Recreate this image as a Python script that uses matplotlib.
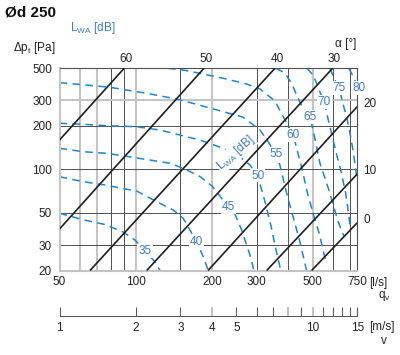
import matplotlib
matplotlib.use("Agg")
import matplotlib.pyplot as plt
from matplotlib.ticker import NullLocator

plt.rcParams["font.family"] = ["Liberation Sans", "DejaVu Sans"]
plt.rcParams["mathtext.fontset"] = "custom"
plt.rcParams["mathtext.rm"] = "Liberation Sans"

# axis ticks
x_ticks = [50, 100, 200, 300, 500, 750]
y_ticks = [20, 30, 50, 100, 200, 300, 500]

# grid lines (light = thick grey, dark = thin)
grid_q_light = [60, 70, 100, 200, 500]
grid_q_dark = [80, 90, 150, 300, 400, 600, 700]
grid_p_light = [300]
grid_p_dark = [30, 50, 100, 200]

# velocity scale
v_ticks = [1, 2, 3, 4, 5, 6, 7, 8, 9, 10, 11, 12, 13, 14, 15]
v_labels = ["1", "2", "3", "4", "5", "", "", "", "", "10", "", "", "", "", "15"]
v_gray = [4, 8, 10]
q_per_v = 50.0

# damper blade angle lines: start / end points
alpha_deg = [60, 50, 40, 30, 20, 10, 0]
alpha_q0 = [50, 50, 66, 110.5, 193, 329, 495]
alpha_p0 = [159.6, 38.7, 20, 20, 20, 20, 20]
alpha_q1 = [90, 186, 354.6, 599, 750, 750, 750]
alpha_p1 = [500, 500, 500, 500, 272, 93, 42.8]

# sound power curves L_WA [dB]
q35 = [50, 62.5, 75.6, 89.3, 99.3, 108.8, 119, 124.7]
p35 = [49.7, 44.7, 41.6, 36.9, 32.5, 27.4, 23.0, 20]
q40 = [50, 62.1, 75.6, 88, 100.8, 121, 140.7, 154, 161, 174, 184.8, 193.4]
p40 = [89.0, 82.2, 78.0, 74.0, 70.9, 59.8, 52.4, 45.9, 40.2, 31.5, 24.9, 20]
q45 = [50, 62.1, 76.8, 113.8, 136.5, 156.5, 179.3, 200, 215, 231.4, 246.4, 262, 282.6, 293]
p45 = [139.9, 132.5, 129.2, 116.1, 110.2, 100.6, 89.3, 76.8, 65.5, 55.0, 49.1, 38.1, 25.6, 20]
q50 = [50, 62.1, 76.8, 100.8, 124.7, 149.5, 179.3, 221.7, 258, 282.6, 303, 314.5, 324, 344, 354.6, 374]
p50 = [208.3, 205, 200.5, 197.3, 187.2, 172.9, 159.6, 139.9, 121.8, 107.2, 90.7, 72.0, 59.8, 39.1, 30.0, 20]
q55 = [50, 64.0, 79.1, 110.5, 147.2, 196.4, 265, 309.5, 333.5, 358, 371, 390.8, 406, 427.8, 445, 473]
p55 = [397.5, 383, 369.5, 335.8, 305, 265.7, 230, 187.3, 155.4, 127.1, 107.2, 73.2, 56.7, 40.8, 31.6, 20]
q60 = [134, 154, 184.8, 221.7, 274.3, 309.5, 354.6, 385, 419, 435, 455, 476.5, 501.5, 530, 560]
p60 = [500, 486.6, 456.6, 426.4, 389.4, 360, 297, 226.7, 172.9, 134, 99.0, 68.7, 49.7, 36.3, 24]
q65 = [358, 388.5, 414, 437, 457, 487.5, 501.5, 518, 534, 576.5, 602.6, 630, 664]
p65 = [500, 464, 389.4, 311.6, 265.7, 229, 187.3, 143.5, 110.2, 74.0, 56.7, 43.5, 34.6]
q70 = [474.4, 501.5, 519.5, 534, 555, 572, 598, 617.6, 645, 675, 695, 704.5]
p70 = [500, 449.4, 389.4, 342.8, 293.9, 231.3, 168.3, 131.9, 99, 68.3, 47.6, 38.7]
q75 = [584.6, 606.5, 635.5, 657.6, 681.6, 701.6, 721, 740, 750]
p75 = [500, 428.4, 363.6, 287.8, 226.7, 178.5, 136.3, 99, 84.4]
q80 = [695, 721, 750]
p80 = [500, 442.3, 377]

lwa_levels = [35, 40, 45, 50, 55, 60, 65, 70, 75, 80]
lwa_label_q = [108.8, 174, 232, 303, 358, 419, 487.5, 555, 635.5, 765]
lwa_label_p = [27.4, 31.5, 55.2, 90.7, 127.1, 172.9, 229, 293.9, 363.6, 363.6]

BLUE = "#1a86d4"
BLUE_TXT = "#3a7bd2"
LIGHT = "#c4c4c4"
DARK = "#505050"
W, H = 400.0, 355.0

fig = plt.figure(figsize=(4, 3.55), dpi=100)
ax = fig.add_axes([59.5 / W, 1 - 270.5 / H, (357.3 - 59.5) / W, (270.5 - 68.3) / H])
ax.set_xscale("log")
ax.set_yscale("log")
ax.set_xlim(50, 750)
ax.set_ylim(20, 500)

for q in grid_q_light:
    ax.axvline(q, color=LIGHT, lw=1.5, zorder=1)
for q in grid_q_dark:
    ax.axvline(q, color=DARK, lw=0.7, zorder=1)
for p in grid_p_light:
    ax.axhline(p, color=LIGHT, lw=1.5, zorder=1)
for p in grid_p_dark:
    ax.axhline(p, color=DARK, lw=0.7, zorder=1)

for side in ["left", "bottom"]:
    ax.spines[side].set_color(LIGHT)
    ax.spines[side].set_linewidth(1.5)
for side in ["top", "right"]:
    ax.spines[side].set_color(DARK)
    ax.spines[side].set_linewidth(0.8)

ax.set_xticks(x_ticks)
ax.set_xticklabels([str(t) for t in x_ticks])
ax.set_yticks(y_ticks)
ax.set_yticklabels([str(t) for t in y_ticks])
ax.xaxis.set_minor_locator(NullLocator())
ax.yaxis.set_minor_locator(NullLocator())
ax.tick_params(length=0, labelsize=8.5, colors="#222222")
ax.tick_params(axis="x", pad=4)
ax.tick_params(axis="y", pad=5.4)

# L_WA curves
lwa_q = [q35, q40, q45, q50, q55, q60, q65, q70, q75, q80]
lwa_p = [p35, p40, p45, p50, p55, p60, p65, p70, p75, p80]
for q, p in zip(lwa_q, lwa_p):
    ax.plot(q, p, color=BLUE, lw=1.1, ls=(0, (5, 3.5)), dash_capstyle="butt", zorder=2)

for lvl, q, p in zip(lwa_levels, lwa_label_q, lwa_label_p):
    ax.text(q, p, str(lvl), color=BLUE_TXT, fontsize=8.5, ha="center", va="center",
            zorder=4, clip_on=False,
            bbox=dict(boxstyle="square,pad=0.08", fc="white", ec="none"))

ax.text(247.6, 130.8, r"L$_\mathregular{WA}$ [dB]", color=BLUE_TXT, fontsize=8.5,
        rotation=41.5, rotation_mode="anchor", ha="center", va="center", zorder=4,
        bbox=dict(boxstyle="square,pad=0.05", fc="white", ec="none"))

# damper angle lines
for a, q0, p0, q1, p1 in zip(alpha_deg, alpha_q0, alpha_p0, alpha_q1, alpha_p1):
    ax.plot([q0, q1], [p0, p1], color="#1e1e1e", lw=1.2, solid_capstyle="butt", zorder=3)
    if p1 >= 500:
        ax.annotate(str(a), xy=(q1, p1), xytext=(1.4, 6.6), textcoords="offset points",
                    ha="center", va="center", fontsize=8.5, color="#222222",
                    annotation_clip=False)
    else:
        ax.annotate(str(a), xy=(q1, p1), xytext=(4.3, 1.9), textcoords="offset points",
                    ha="left", va="center", fontsize=8.5, color="#222222",
                    annotation_clip=False)

# velocity scale below
ax_v = fig.add_axes([59.5 / W, 1 - 316 / H, (357.3 - 59.5) / W, 0.0001])
ax_v.set_xscale("log")
ax_v.set_xlim(50 / q_per_v, 750 / q_per_v)
ax_v.patch.set_visible(False)
for side in ["left", "right", "top"]:
    ax_v.spines[side].set_visible(False)
ax_v.spines["bottom"].set_color(DARK)
ax_v.spines["bottom"].set_linewidth(0.7)
ax_v.set_yticks([])
ax_v.set_xticks(v_ticks)
ax_v.set_xticklabels(v_labels)
ax_v.xaxis.set_minor_locator(NullLocator())
ax_v.tick_params(axis="x", direction="in", length=6.5, width=0.7, color=DARK,
                 labelsize=8.5, labelcolor="#222222", pad=4)
for tick, v in zip(ax_v.xaxis.get_major_ticks(), v_ticks):
    if v in v_gray:
        tick.tick1line.set_markeredgecolor(LIGHT)
        tick.tick1line.set_markeredgewidth(1.5)

# annotations
fig.text(5 / W, 1 - 12.5 / H, "Ød 250", fontsize=11, fontweight="bold", ha="left",
         va="center", color="#111111")
fig.text(70 / W, 1 - 28 / H, r"L$_\mathregular{WA}$ [dB]", fontsize=8.5, color=BLUE_TXT,
         ha="left", va="center")
fig.text(13 / W, 1 - 47.5 / H, r"Δp$_\mathregular{t}$ [Pa]", fontsize=8.5,
         color="#222222", ha="left", va="center")
fig.text(346 / W, 1 - 44 / H, "α [°]", fontsize=8.5, color="#222222", ha="center",
         va="center")
fig.text(369 / W, 1 - 283 / H, "[l/s]", fontsize=8.5, color="#222222", ha="left",
         va="center")
fig.text(384 / W, 1 - 296 / H, r"q$_\mathregular{v}$", fontsize=8.5, color="#222222",
         ha="center", va="center")
fig.text(369 / W, 1 - 327 / H, "[m/s]", fontsize=8.5, color="#222222", ha="left",
         va="center")
fig.text(384 / W, 1 - 341 / H, "v", fontsize=8.5, color="#222222", ha="center",
         va="center")

fig.savefig("out.png", dpi=100)
